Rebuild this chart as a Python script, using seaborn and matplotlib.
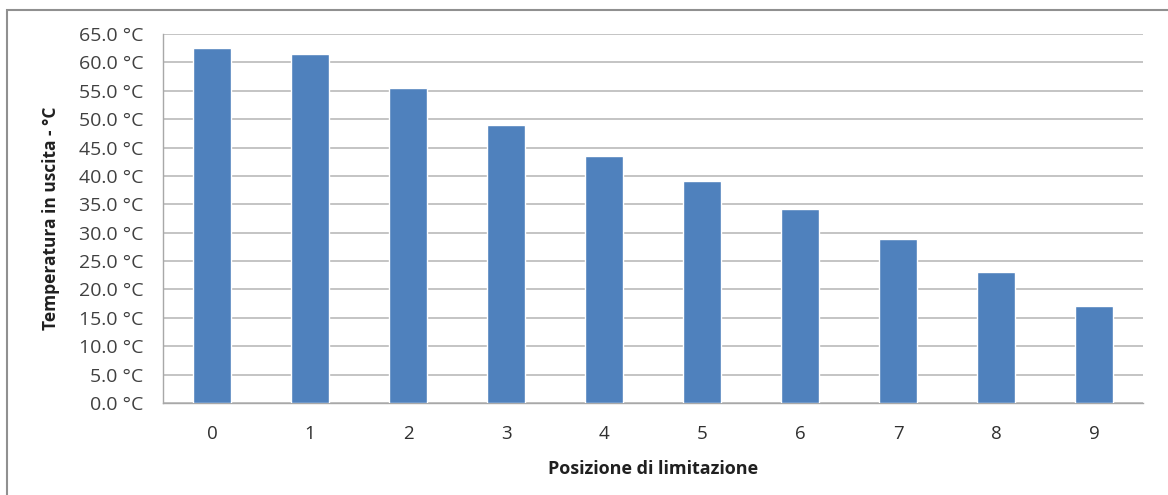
import numpy as np
import pandas as pd
import matplotlib
matplotlib.use("Agg")
import matplotlib.pyplot as plt
import seaborn as sns
from matplotlib.patches import Rectangle

# data
positions = ["0", "1", "2", "3", "4", "5", "6", "7", "8", "9"]
temperatures = [62.5, 61.4, 55.5, 49.0, 43.5, 39.1, 34.2, 28.9, 23.1, 17.0]
y_ticks = np.arange(0, 70, 5)

df = pd.DataFrame({"pos": positions, "temp": temperatures})

sns.set_theme(style="white")
plt.rcParams["font.family"] = ["Open Sans", "DejaVu Sans"]

fig = plt.figure(figsize=(11.68, 4.95), dpi=100)
ax = fig.add_axes([0.1396, 0.1859, 0.8390, 0.7454])

sns.barplot(data=df, x="pos", y="temp", color="#4F81BD", saturation=1,
            width=0.39, ax=ax, zorder=3)

ax.set_ylim(0, 65)
ax.set_xlim(-0.5, 9.5)
ax.set_yticks(y_ticks)
ax.set_yticklabels([f"{v:.1f} °C" for v in y_ticks])
ax.yaxis.grid(True, color="#C4C4C4", linewidth=1.4, zorder=0)
ax.set_axisbelow(True)

# category separator ticks on x axis
ax.set_xticks(np.arange(-0.5, 10, 1), minor=True)
ax.tick_params(axis="x", which="major", length=0, labelsize=13.5, labelcolor="#303030", pad=16)
ax.tick_params(axis="x", which="minor", length=5, color="#A0A0A0", direction="out")
ax.tick_params(axis="y", which="major", length=6, color="#C4C4C4", labelsize=14,
               labelcolor="#404040", direction="out", pad=8)

for side in ["top", "right"]:
    ax.spines[side].set_visible(False)
for side in ["left", "bottom"]:
    ax.spines[side].set_color("#A8A8A8")
    ax.spines[side].set_linewidth(1.0)

ax.set_xlabel("Posizione di limitazione", fontsize=13, fontweight="bold",
              color="#202020", labelpad=12)
ax.set_ylabel("Temperatura in uscita - °C", fontsize=12.5, fontweight="bold",
              color="#202020", labelpad=14)

# outer chart frame
fig.patches.append(Rectangle((7 / 1168, -0.01), 1.02, 1 - 10 / 495 + 0.01,
                             transform=fig.transFigure, fill=False,
                             edgecolor="#909090", linewidth=1.5))

fig.savefig("out.png", dpi=100)
